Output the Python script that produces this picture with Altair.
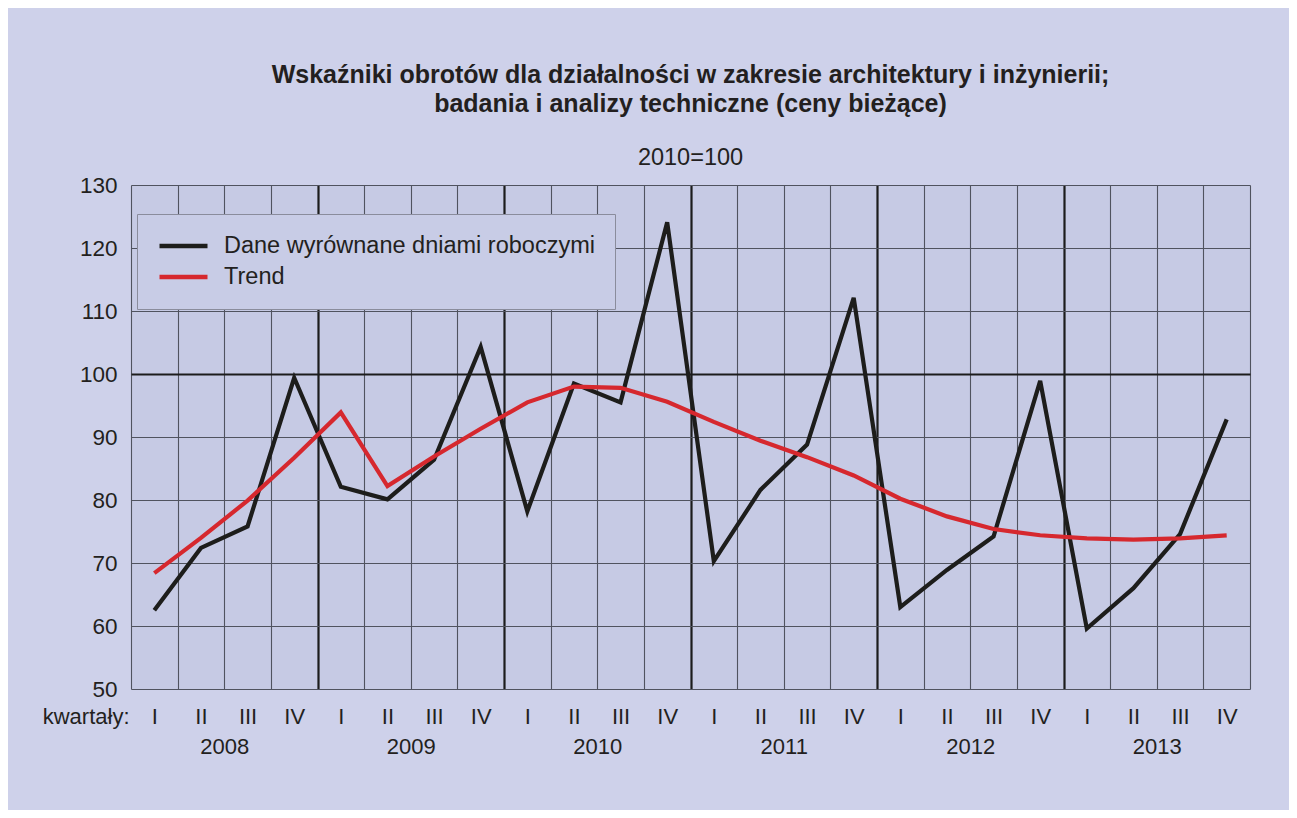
import json
import altair as alt
import pandas as pd

# ---- data ----
quarters = ["I", "II", "III", "IV"]
years = [2008, 2009, 2010, 2011, 2012, 2013]
series_names = ["Dane wyrównane dniami roboczymi", "Trend"]
adjusted = [62.5, 72.4, 75.8, 99.4, 82.1, 80.1, 86.4, 104.3,
            78.2, 98.5, 95.5, 124.1, 70.3, 81.6, 88.8, 112.1,
            63.0, 68.9, 74.2, 98.9, 59.6, 66.0, 74.6, 92.8]
trend = [68.4, 74.0, 79.9, 86.7, 93.9, 82.2, 86.9, 91.3,
         95.5, 98.0, 97.8, 95.6, 92.4, 89.4, 86.8, 83.9,
         80.2, 77.4, 75.4, 74.4, 73.9, 73.7, 73.9, 74.4]
title_lines = ["Wskaźniki obrotów dla działalności w zakresie architektury i inżynierii;",
               "badania i analizy techniczne (ceny bieżące)"]
base_label = "2010=100"
x_title = "kwartały:"
y_ticks = [50, 60, 70, 80, 90, 100, 110, 120, 130]

rows = []
for name, vals in zip(series_names, [adjusted, trend]):
    for i, v in enumerate(vals):
        rows.append({"pos": i + 0.5, "series": name, "value": v})
df = pd.DataFrame(rows)

FONT = "Liberation Sans"
TXT = "#231f20"
n_q = len(adjusted)

label_expr = (
    f"datum.value % 1 == 0.5 ? {json.dumps(quarters)}[floor(datum.value) % 4] : "
    f"(datum.value % 4 == 2 ? ['', '' + {json.dumps(years)}[floor(datum.value / 4)]] : '')"
)

x_axis = alt.Axis(
    values=[i / 2 for i in range(2 * n_q + 1)],
    labelExpr=label_expr,
    labelOverlap=False, labelFlush=False, labelBound=False,
    labelFont=FONT, labelFontSize=22, labelColor=TXT,
    labelPadding=17, labelLineHeight=30, labelBaseline="top",
    ticks=False, tickSize=0, domain=False,
    grid=True,
    gridOpacity={"condition": {"test": "datum.value % 1 !== 0", "value": 0}, "value": 1},
    gridWidth={"condition": {"test": "datum.value % 4 === 0 && datum.value > 0 && datum.value < 24", "value": 2.2}, "value": 1.1},
    gridColor={"condition": {"test": "datum.value % 4 === 0 && datum.value > 0 && datum.value < 24", "value": "#1c1c1c"}, "value": "#50535f"},
    title=x_title, titleFont=FONT, titleFontSize=22, titleFontWeight="normal", titleColor=TXT,
    titleX=-2, titleY=17, titleAlign="right", titleBaseline="top", titleAngle=0,
)

y_axis = alt.Axis(
    values=y_ticks,
    labelFont=FONT, labelFontSize=22.5, labelColor=TXT, labelPadding=14,
    ticks=False, tickSize=0, domain=False,
    grid=True,
    gridWidth={"condition": {"test": "datum.value === 100", "value": 2.2}, "value": 1.1},
    gridColor={"condition": {"test": "datum.value === 100", "value": "#1c1c1c"}, "value": "#50535f"},
    title=base_label, titleFont=FONT, titleFontSize=23.5, titleFontWeight="normal", titleColor=TXT,
    titleAngle=0, titleX=559, titleY=-28, titleAlign="center", titleBaseline="middle",
)

legend = alt.Legend(
    orient="none", legendX=6, legendY=29, title=None,
    fillColor="#c8cce6", strokeColor="#8a8c9c", padding=20,
    symbolType="stroke", symbolSize=2304, symbolStrokeWidth=4.5,
    labelFont=FONT, labelFontSize=23.5, labelColor=TXT, labelOffset=14, labelLimit=0,
    rowPadding=7, clipHeight=24,
)

base = alt.Chart(df).mark_line(strokeWidth=4.2).encode(
    x=alt.X("pos:Q", scale=alt.Scale(domain=[0, n_q], nice=False, zero=False), axis=x_axis),
    y=alt.Y("value:Q", scale=alt.Scale(domain=[50, 130], nice=False, zero=False), axis=y_axis),
    color=alt.Color("series:N", scale=alt.Scale(domain=series_names, range=["#1d1d1b", "#d6282e"]),
                    legend=legend),
)

black = base.transform_filter(alt.datum.series == series_names[0])
red = base.transform_filter(alt.datum.series == series_names[1])

chart = alt.layer(black, red).properties(
    width=1119, height=504,
    padding={"left": 123, "top": 177, "right": 39, "bottom": 121},
    autosize=alt.AutoSizeParams(type="none"),
    title=alt.Title(text=title_lines, anchor="middle", frame="group", align="center",
                    font=FONT, fontSize=25, fontWeight="bold", color=TXT, lineHeight=29.5, offset=28),
    background="#ced1ea",
).configure_view(fill="#c6cae4", stroke=None)

chart.save("out.html", embed_options={"renderer": "svg", "actions": False})
